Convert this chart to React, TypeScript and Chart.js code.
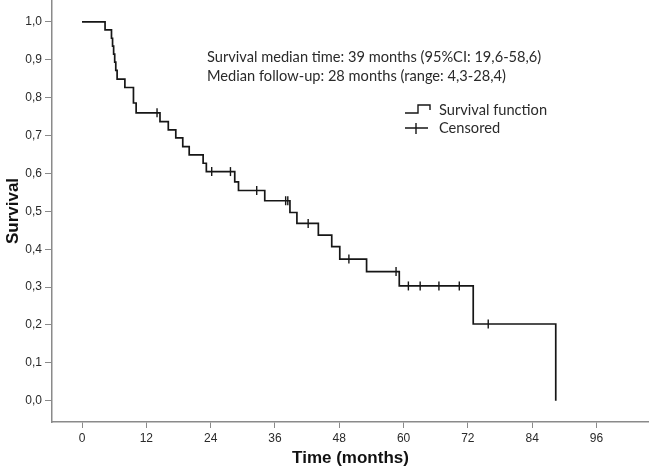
import React, { useEffect, useRef } from 'react';
import { Chart, registerables } from 'chart.js';

Chart.register(...registerables);

// Kaplan-Meier steps: time of each drop and survival level after it
const eventTimes = [0, 4.3, 5.5, 5.7, 5.9, 6.1, 6.3, 6.55, 8.0, 9.6, 10.1, 14.55, 16.1, 17.5, 18.8, 20.0, 22.6, 23.2, 28.5, 29.2, 34.1, 38.8, 40.1, 44.1, 46.6, 48.1, 53.1, 59.2, 73.0, 88.4];
const survival = [1.0, 0.979, 0.957, 0.936, 0.915, 0.894, 0.872, 0.849, 0.827, 0.786, 0.76, 0.737, 0.715, 0.694, 0.671, 0.649, 0.627, 0.605, 0.578, 0.555, 0.528, 0.497, 0.468, 0.437, 0.407, 0.374, 0.341, 0.303, 0.2025, 0.0];
const censorTimes = [14.0, 24.2, 27.7, 32.6, 38.0, 38.4, 42.2, 49.8, 58.6, 60.9, 63.1, 66.6, 70.4, 75.8];

const xTicks = [0, 12, 24, 36, 48, 60, 72, 84, 96];
const yTicks = [0, 0.1, 0.2, 0.3, 0.4, 0.5, 0.6, 0.7, 0.8, 0.9, 1.0];

const xTitle = 'Time (months)';
const yTitle = 'Survival';
const annotationLines = [
  'Survival median time: 39 months (95%CI: 19,6-58,6)',
  'Median follow-up: 28 months (range: 4,3-28,4)',
];
const legendLabels = ['Survival function', 'Censored'];

const levelAt = (t: number) => {
  let v = survival[0];
  for (let i = 0; i < eventTimes.length; i++) {
    if (eventTimes[i] <= t) v = survival[i];
  }
  return v;
};

const LINE = '#161616';
const AXIS = '#8a8a8a';
const TEXT = '#2a2a2a';

const overlayPlugin = {
  id: 'kmOverlay',
  afterDraw(chart: any) {
    const ctx = chart.ctx as CanvasRenderingContext2D;
    ctx.save();
    let size = 14;
    ctx.font = `${size}px Lato`;
    const w = ctx.measureText(annotationLines[1]).width;
    size = size * 299 / w;
    ctx.font = `${size}px Lato`;
    ctx.fillStyle = TEXT;
    ctx.textBaseline = 'middle';
    ctx.textAlign = 'left';
    ctx.fillText(annotationLines[0], 207, 57);
    ctx.fillText(annotationLines[1], 207, 76);
    ctx.fillText(legendLabels[0], 439, 110);
    ctx.fillText(legendLabels[1], 439, 128);
    ctx.strokeStyle = LINE;
    ctx.lineWidth = 1.4;
    ctx.beginPath();
    ctx.moveTo(405, 113);
    ctx.lineTo(418, 113);
    ctx.lineTo(418, 105);
    ctx.lineTo(430, 105);
    ctx.lineTo(430, 110);
    ctx.stroke();
    ctx.beginPath();
    ctx.moveTo(405, 128);
    ctx.lineTo(428, 128);
    ctx.moveTo(416, 123);
    ctx.lineTo(416, 134);
    ctx.stroke();
    ctx.restore();
  },
};

export default function App() {
  const ref = useRef<HTMLCanvasElement | null>(null);
  useEffect(() => {
    document.body.style.margin = '0';
    const canvas = ref.current!;
    const chart = new Chart(canvas, {
      type: 'line',
      data: {
        datasets: [
          {
            label: legendLabels[0],
            data: eventTimes.map((t, i) => ({ x: t, y: survival[i] })),
            stepped: 'before',
            borderColor: LINE,
            borderWidth: 1.7,
            pointRadius: 0,
            fill: false,
          },
          {
            label: legendLabels[1],
            type: 'scatter',
            data: censorTimes.map((t) => ({ x: t, y: levelAt(t) })),
            pointStyle: 'line',
            rotation: 90,
            radius: 4.5,
            borderColor: LINE,
            borderWidth: 1.4,
            showLine: false,
          } as any,
        ],
      },
      options: {
        animation: false,
        responsive: false,
        layout: { padding: 0, autoPadding: false },
        plugins: { legend: { display: false }, tooltip: { enabled: false } },
        scales: {
          x: {
            type: 'linear',
            min: -5.6,
            max: 105.8,
            afterBuildTicks: (s: any) => {
              s.ticks = xTicks.map((v) => ({ value: v }));
            },
            afterFit: (s: any) => {
              s.height = 48;
              s.paddingLeft = 0;
              s.paddingRight = 0;
            },
            ticks: {
              color: TEXT,
              font: { family: 'Liberation Sans', size: 12 },
              padding: 3,
              maxRotation: 0,
              autoSkip: false,
            },
            grid: { drawOnChartArea: false, drawTicks: true, tickLength: 6, color: AXIS, lineWidth: 1 },
            border: { display: true, color: AXIS, width: 1.5 },
            title: {
              display: true,
              text: xTitle,
              color: '#111',
              font: { family: 'Liberation Sans', size: 17, weight: 'bold' },
              padding: { top: 0, bottom: 1 },
            },
          },
          y: {
            type: 'linear',
            min: -0.0562,
            max: 1.058,
            afterBuildTicks: (s: any) => {
              s.ticks = yTicks.map((v) => ({ value: v }));
            },
            afterFit: (s: any) => {
              s.width = 52;
              s.paddingTop = 0;
              s.paddingBottom = 0;
            },
            ticks: {
              color: TEXT,
              font: { family: 'Liberation Sans', size: 12 },
              padding: 3,
              callback: (v: any) => Number(v).toFixed(1).replace('.', ','),
            },
            grid: { drawOnChartArea: false, drawTicks: true, tickLength: 7, color: AXIS, lineWidth: 1 },
            border: { display: true, color: AXIS, width: 1.5 },
            title: {
              display: true,
              text: yTitle,
              color: '#111',
              font: { family: 'Liberation Sans', size: 17, weight: 'bold' },
              padding: { top: 3, bottom: 0 },
            },
          },
        },
      },
      plugins: [overlayPlugin],
    });
    return () => chart.destroy();
  }, []);
  return <canvas ref={ref} width={649} height={470} style={{ display: 'block' }} />;
}
